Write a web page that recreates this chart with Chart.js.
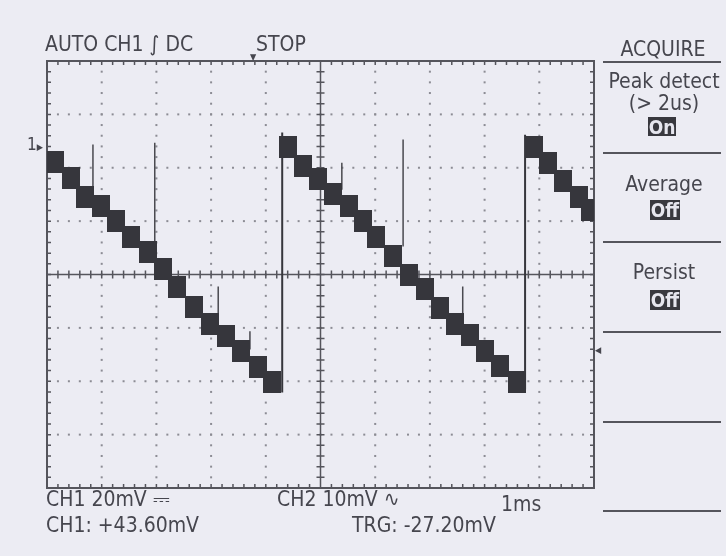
<!DOCTYPE html>
<html>
<head>
<meta charset="utf-8">
<script src="https://cdn.jsdelivr.net/npm/chart.js@4/dist/chart.umd.min.js"></script>
<style>
  body { margin: 0; background: #ececf3; }
  #wrap { position: relative; width: 726px; height: 556px; overflow: hidden;
          font-family: "DejaVu Sans Condensed", "DejaVu Sans", sans-serif; font-size: 21px; color: #46464e; }
  #scope { position: absolute; left: 0; top: 0; }
  .t { position: absolute; white-space: nowrap; line-height: 1; }
  .c { transform: translateX(-50%); }
  .inv { position: absolute; background: #38383e; color: #e6e6ee; line-height: 20px; text-align: center; font-size: 19px; font-weight: bold; }
  .rule { position: absolute; left: 603px; width: 118px; border-top: 2px solid #55555c; }
</style>
</head>
<body>
<div id="wrap">
  <canvas id="scope" width="726" height="556"></canvas>

  <div class="t" style="left:45px;top:34px">AUTO CH1 ∫ DC</div>
  <div class="t" style="left:256px;top:34px">STOP</div>
  <div class="t" style="left:250px;top:53px;font-size:9px">▼</div>
  <div class="t" style="left:27px;top:136px;font-size:17px">1<span style="font-size:9px">▶</span></div>
  <div class="t" style="left:595px;top:346px;font-size:9px">◀</div>

  <div class="t c" style="left:663px;top:39px">ACQUIRE</div>
  <div class="rule" style="top:61px"></div>
  <div class="t c" style="left:664px;top:71px">Peak detect</div>
  <div class="t c" style="left:664px;top:93px">(&gt; 2us)</div>
  <div class="inv" style="left:648px;top:117px;width:28px;height:19px">On</div>
  <div class="rule" style="top:152px"></div>
  <div class="t c" style="left:664px;top:174px">Average</div>
  <div class="inv" style="left:650px;top:200px;width:30px;height:20px">Off</div>
  <div class="rule" style="top:241px"></div>
  <div class="t c" style="left:664px;top:262px">Persist</div>
  <div class="inv" style="left:650px;top:290px;width:30px;height:20px">Off</div>
  <div class="rule" style="top:331px"></div>
  <div class="rule" style="top:421px"></div>
  <div class="rule" style="top:510px"></div>

  <div class="t" style="left:46px;top:489px">CH1 20mV ⎓</div>
  <div class="t" style="left:277px;top:489px">CH2 10mV ∿</div>
  <div class="t" style="left:501px;top:494px">1ms</div>
  <div class="t" style="left:46px;top:515px">CH1: +43.60mV</div>
  <div class="t" style="left:352px;top:515px">TRG: -27.20mV</div>
</div>

<script>
// time in ms (1 ms/div), level in mV (20 mV/div)
const blockTimes = [
  0.15, 0.44, 0.69, 0.99, 1.26, 1.54, 1.85, 2.12, 2.38, 2.69, 2.98, 3.27, 3.55, 3.86, 4.11,
  4.41, 4.68, 4.95, 5.23, 5.52, 5.78, 6.01, 6.33, 6.62, 6.91, 7.18, 7.46, 7.73, 8.01, 8.28, 8.59,
  8.90, 9.16, 9.43, 9.73, 9.93
];
const blockLevels = [
  42.3, 36.0, 29.2, 25.5, 19.9, 14.2, 8.6, 1.9, -4.5, -12.0, -18.7, -23.2, -28.8, -34.8, -40.4,
  47.6, 40.8, 35.6, 30.0, 25.5, 19.9, 14.2, 7.0, 0.0, -5.6, -12.7, -18.4, -22.5, -28.5, -34.1, -40.1,
  47.6, 41.6, 35.2, 29.2, 24.3
];

// rising edges of the sawtooth
const edgeTimes = [4.30, 8.74];
const edgeLows = [-44.2, -43.1];
const edgeHighs = [53.2, 52.4];

// thin glitch spikes
const spikeTimes = [0.84, 1.97, 3.13, 3.71, 5.39, 6.51, 7.60];
const spikeTops = [48.7, 49.4, -4.5, -21.3, 41.9, 50.6, -4.5];
const spikeBottoms = [31.8, 8.2, -15.7, -28.1, 31.8, 10.5, -19.5];

const TRACE = '#36363c';
const DOTS = '#8c8c94';
const FRAME = '#55555c';

// vertical segments separated by gaps
function segments(times, a, b) {
  const out = [];
  times.forEach((t, i) => {
    out.push({ x: t, y: a[i] }, { x: t, y: b[i] }, { x: t, y: null });
  });
  return out;
}

const block = document.createElement('canvas');
block.width = 18;
block.height = 22;
const bctx = block.getContext('2d');
bctx.fillStyle = TRACE;
bctx.fillRect(0, 0, 18, 22);

// oscilloscope graticule: frame, dotted divisions, centre cross with ticks
const graticule = {
  id: 'graticule',
  beforeDatasetsDraw(chart) {
    const { ctx, chartArea: a, scales: { x, y } } = chart;
    ctx.save();

    ctx.fillStyle = DOTS;
    for (let t = 1; t < 10; t++) {
      if (t === 5) continue;
      const px = x.getPixelForValue(t);
      for (let v = -80; v <= 80; v += 4) {
        ctx.fillRect(px - 1, y.getPixelForValue(v) - 1, 2, 2);
      }
    }
    for (let v = -60; v <= 60; v += 20) {
      if (v === 0) continue;
      const py = y.getPixelForValue(v);
      for (let t = 0; t <= 10; t += 0.2) {
        ctx.fillRect(x.getPixelForValue(t) - 1, py - 1, 2, 2);
      }
    }

    ctx.strokeStyle = FRAME;
    ctx.lineWidth = 2;
    ctx.strokeRect(a.left, a.top, a.right - a.left, a.bottom - a.top);

    const cx = x.getPixelForValue(5);
    const cy = y.getPixelForValue(0);
    ctx.beginPath();
    ctx.moveTo(a.left, cy); ctx.lineTo(a.right, cy);
    ctx.moveTo(cx, a.top); ctx.lineTo(cx, a.bottom);

    ctx.lineWidth = 1.5;
    for (let i = 1; i < 50; i++) {
      const px = x.getPixelForValue(i * 0.2);
      ctx.moveTo(px, cy - 4); ctx.lineTo(px, cy + 4);
      ctx.moveTo(px, a.top); ctx.lineTo(px, a.top + 4);
      ctx.moveTo(px, a.bottom); ctx.lineTo(px, a.bottom - 4);
    }
    ctx.stroke();
    ctx.beginPath();
    for (let i = 1; i < 40; i++) {
      const py = y.getPixelForValue(-80 + i * 4);
      ctx.moveTo(cx - 4, py); ctx.lineTo(cx + 4, py);
      ctx.moveTo(a.left, py); ctx.lineTo(a.left + 4, py);
      ctx.moveTo(a.right, py); ctx.lineTo(a.right - 4, py);
    }
    ctx.stroke();
    ctx.restore();
  }
};

new Chart(document.getElementById('scope'), {
  type: 'scatter',
  data: {
    datasets: [
      {
        label: 'CH1',
        data: blockTimes.map((t, i) => ({ x: t, y: blockLevels[i] })),
        pointStyle: block,
        showLine: false,
        clip: 0
      },
      {
        label: 'edges',
        data: segments(edgeTimes, edgeLows, edgeHighs),
        showLine: true,
        spanGaps: false,
        borderColor: TRACE,
        borderWidth: 2,
        pointRadius: 0
      },
      {
        label: 'spikes',
        data: segments(spikeTimes, spikeBottoms, spikeTops),
        showLine: true,
        spanGaps: false,
        borderColor: '#4a4a50',
        borderWidth: 1.5,
        pointRadius: 0
      }
    ]
  },
  options: {
    responsive: false,
    animation: false,
    layout: { padding: { left: 47, right: 132, top: 61, bottom: 68 } },
    plugins: { legend: { display: false }, tooltip: { enabled: false } },
    scales: {
      x: { type: 'linear', min: 0, max: 10, display: false },
      y: { type: 'linear', min: -80, max: 80, display: false }
    }
  },
  plugins: [graticule]
});
</script>
</body>
</html>
